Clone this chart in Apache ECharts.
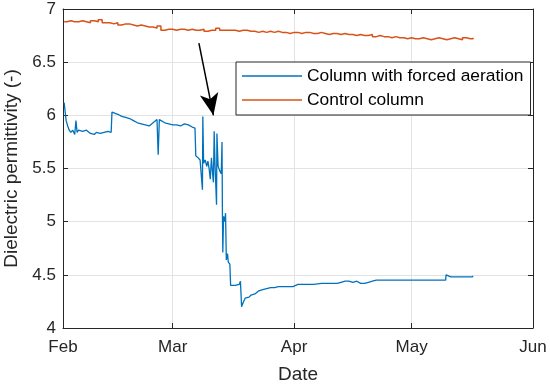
<!DOCTYPE html>
<html>
<head>
<meta charset="utf-8">
<script src="https://cdn.jsdelivr.net/npm/echarts@6/dist/echarts.min.js"></script>
<style>html,body{margin:0;padding:0;background:#fff}#c{width:550px;height:387px}</style>
</head>
<body>
<div id="c"></div>
<script>
const baseDate = Date.UTC(2021, 1, 1);
const DAY = 86400000;
const monthNames = ['Jan','Feb','Mar','Apr','May','Jun','Jul'];
const yTicks = [4, 4.5, 5, 5.5, 6, 6.5, 7];

const blueDays = [0.3,0.5,0.8,1.2,1.6,2.0,2.5,3.0,3.3,3.6,4.0,5.0,6.0,7.0,8.0,8.5,9.5,10.5,11.5,12.3,
  12.5,13.0,14.0,15.0,16.0,17.0,18.0,19.0,20.0,21.0,22.0,23.0,24.0,24.3,24.6,25.0,26.0,27.0,28.0,29.0,30.0,31.0,32.0,33.0,33.7,
  33.9,34.5,35.0,35.6,35.7,35.9,36.3,36.7,37.0,37.3,37.6,37.9,38.2,38.4,38.6,38.8,39.2,39.3,39.6,40.0,40.4,40.6,40.7,40.8,41.0,41.3,41.5,41.7,42.0,42.2,42.6,
  42.8,44.0,45.0,45.3,45.5,45.6,46.0,46.5,47.5,48.0,49.0,50.0,51.0,52.0,53.0,54.0,55.0,57.0,58.7,60.0,62.0,64.0,66.0,68.0,70.0,71.0,72.0,73.0,74.0,75.0,76.0,77.0,78.0,79.0,80.0,85.0,90.0,95.0,97.7,97.8,98.3,99.0,100,102,104.5,104.7];
const blueValues = [6.12,6.05,5.95,5.90,5.86,5.84,5.86,5.82,5.95,5.84,5.86,5.85,5.86,5.83,5.82,5.84,5.83,5.84,5.85,5.84,
  6.03,6.02,6.01,5.99,5.98,5.97,5.95,5.93,5.92,5.91,5.90,5.93,5.96,5.63,5.96,5.95,5.93,5.92,5.91,5.91,5.90,5.92,5.91,5.89,5.88,
  5.62,5.60,5.58,5.30,5.99,5.55,5.58,5.52,5.57,5.50,5.40,5.60,5.45,5.37,5.85,5.55,5.16,5.83,5.52,5.48,5.45,5.75,5.10,4.71,5.05,5.00,5.08,4.64,4.70,4.62,4.60,
  4.40,4.40,4.41,4.44,4.44,4.20,4.24,4.28,4.29,4.31,4.32,4.35,4.36,4.37,4.38,4.38,4.39,4.39,4.39,4.41,4.41,4.41,4.42,4.42,4.42,4.43,4.44,4.44,4.43,4.44,4.42,4.42,4.43,4.44,4.45,4.45,4.45,4.45,4.45,4.50,4.49,4.48,4.48,4.48,4.48,4.49];

const controlDays = [0.3,1,2,3,4,5,6,7,8,9,10,11,12,13,14,15,16,17,18,19,20,21,22,23,24,25,26,27,28,29,30,31,32,33,34,35,36,37,38,39,40,41,42,43,44,45,46,47,48,49,50,51,52,53,54,55,56,57,58,59,60,61,62,63,64,65,66,67,68,69,70,71,72,73,74,75,76,77,78,79,80,81,82,83,84,85,86,87,88,89,90,91,92,93,94,95,96,97,98,99,100,101,102,103,104,104.7];
const controlValues = [6.88,6.89,6.88,6.88,6.89,6.88,6.87,6.89,6.88,6.90,6.87,6.87,6.86,6.87,6.85,6.86,6.86,6.85,6.84,6.85,6.84,6.83,6.83,6.82,6.84,6.80,6.81,6.81,6.80,6.81,6.81,6.80,6.81,6.80,6.80,6.81,6.79,6.80,6.80,6.82,6.80,6.80,6.80,6.80,6.79,6.80,6.80,6.79,6.79,6.78,6.79,6.78,6.79,6.78,6.79,6.78,6.78,6.77,6.78,6.78,6.77,6.78,6.78,6.77,6.77,6.78,6.77,6.76,6.77,6.77,6.76,6.77,6.76,6.76,6.75,6.76,6.75,6.75,6.76,6.74,6.75,6.74,6.74,6.73,6.74,6.73,6.73,6.72,6.73,6.72,6.72,6.73,6.72,6.71,6.72,6.73,6.72,6.71,6.72,6.73,6.72,6.71,6.73,6.72,6.72,6.73];

const arrowStart = [34.7, 6.68];
const arrowEnd = [38.4, 6.0];

const toData = (days, vals) => days.map((d, i) => [baseDate + d * DAY, vals[i]]);

const axisCol = '#262626';
const gridCol = '#e3e3e3';
const font = 'Liberation Sans, Arial, Helvetica, sans-serif';

const chart = echarts.init(document.getElementById('c'), null, {renderer: 'canvas'});
const xCommon = {
  type: 'time',
  min: baseDate,
  max: Date.UTC(2021, 5, 1),
  minInterval: 28 * DAY,
  maxInterval: 31 * DAY,
  axisLine: {show: true, lineStyle: {color: axisCol, width: 1}},
  axisTick: {show: true, inside: true, length: 5, lineStyle: {color: axisCol}}
};
chart.setOption({
  animation: false,
  backgroundColor: '#fff',
  grid: {left: 63, right: 17, top: 9, bottom: 59, containLabel: false, outerBoundsMode: 'none'},
  xAxis: [
    Object.assign({}, xCommon, {
      position: 'bottom',
      name: 'Date', nameLocation: 'middle', nameGap: 37,
      nameTextStyle: {fontFamily: font, fontSize: 19, color: axisCol},
      axisLabel: {
        show: true, margin: 11, fontFamily: font, fontSize: 17, color: axisCol,
        showMinLabel: true, showMaxLabel: true,
        formatter: function (v) { return monthNames[new Date(v).getUTCMonth()]; }
      },
      splitLine: {show: true, lineStyle: {color: gridCol, width: 1}}
    }),
    Object.assign({}, xCommon, {
      position: 'top',
      axisLabel: {show: false},
      splitLine: {show: false}
    })
  ],
  yAxis: [
    {
      type: 'value', min: yTicks[0], max: yTicks[yTicks.length - 1], interval: 0.5,
      position: 'left',
      name: 'Dielectric permittivity (-)', nameLocation: 'middle', nameGap: 42,
      nameTextStyle: {fontFamily: font, fontSize: 19, color: axisCol},
      axisLine: {show: true, lineStyle: {color: axisCol}},
      axisTick: {show: true, inside: true, length: 5, lineStyle: {color: axisCol}},
      axisLabel: {margin: 7, fontFamily: font, fontSize: 17, color: axisCol},
      splitLine: {show: true, lineStyle: {color: gridCol, width: 1}}
    },
    {
      type: 'value', min: yTicks[0], max: yTicks[yTicks.length - 1], interval: 0.5,
      position: 'right',
      axisLine: {show: true, lineStyle: {color: axisCol}},
      axisTick: {show: true, inside: true, length: 5, lineStyle: {color: axisCol}},
      axisLabel: {show: false},
      splitLine: {show: false}
    }
  ],
  legend: {
    orient: 'vertical',
    left: 236, top: 62,
    padding: [4, 7, 5, 6],
    itemWidth: 60, itemHeight: 1.5, itemGap: 4,
    icon: 'rect',
    borderColor: axisCol, borderWidth: 1, borderRadius: 0,
    backgroundColor: '#fff',
    textStyle: {fontFamily: font, fontSize: 17.4, color: '#000', lineHeight: 20},
    data: ['Column with forced aeration', 'Control column']
  },
  series: [
    {
      name: 'Column with forced aeration', type: 'line',
      data: toData(blueDays, blueValues),
      symbol: 'none', showSymbol: false,
      lineStyle: {color: '#0072BD', width: 1.3},
      itemStyle: {color: '#0072BD'},
      markLine: {
        silent: true, animation: false,
        symbol: ['none', 'arrow'], symbolSize: [14, 22],
        label: {show: false},
        lineStyle: {color: '#000', width: 1.5, type: 'solid'},
        data: [[
          {coord: [baseDate + arrowStart[0] * DAY, arrowStart[1]]},
          {coord: [baseDate + arrowEnd[0] * DAY, arrowEnd[1]]}
        ]]
      }
    },
    {
      name: 'Control column', type: 'line', step: 'end',
      data: toData(controlDays, controlValues),
      symbol: 'none', showSymbol: false,
      lineStyle: {color: '#D95319', width: 1.5},
      itemStyle: {color: '#D95319'}
    }
  ]
});
</script>
</body>
</html>
